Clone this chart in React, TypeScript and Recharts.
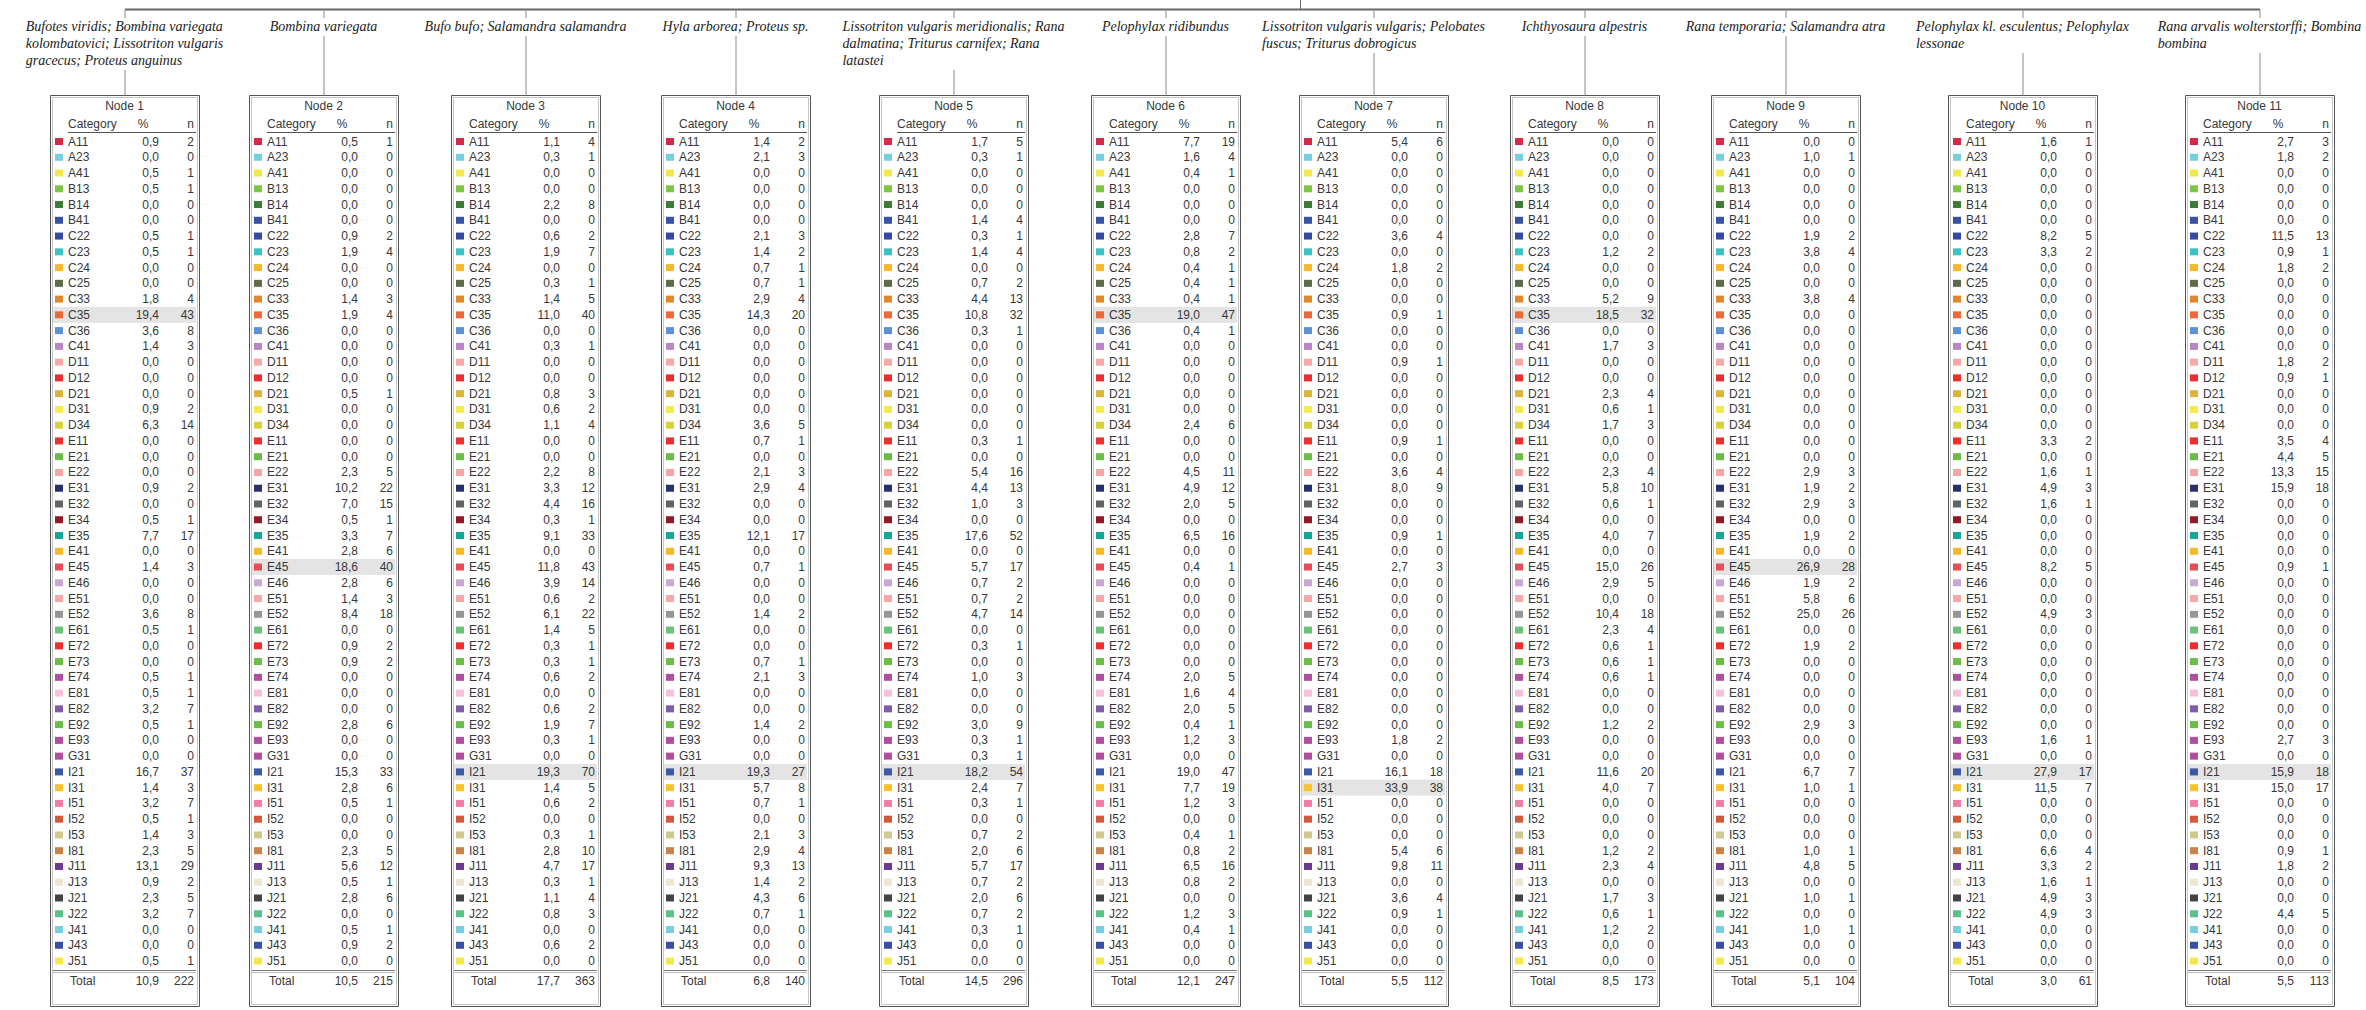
import React from "react";
import { ScatterChart, Scatter, XAxis, YAxis, ReferenceLine, ReferenceArea } from "recharts";

// category codes, in table order
const CATEGORIES = [
  "A11", "A23", "A41", "B13", "B14", "B41", "C22", "C23", "C24", "C25",
  "C33", "C35", "C36", "C41", "D11", "D12", "D21", "D31", "D34", "E11",
  "E21", "E22", "E31", "E32", "E34", "E35", "E41", "E45", "E46", "E51",
  "E52", "E61", "E72", "E73", "E74", "E81", "E82", "E92", "E93", "G31",
  "I21", "I31", "I51", "I52", "I53", "I81", "J11", "J13", "J21", "J22",
  "J41", "J43", "J51",
];

const CAT_COLORS = [
  "#d6294a", "#74d0de", "#f2e94b", "#7ec445", "#3e7b37", "#3a52a3", "#354a9e", "#3dc2c4", "#f7b92c", "#5d6b48",
  "#e0882e", "#ea6a3a", "#5e90d3", "#b985c2", "#f6a9a9", "#ec2d2f", "#d9b53a", "#f3ec4d", "#d8d23a", "#f02e2e",
  "#6cbd45", "#f6a5a5", "#27306f", "#5f6566", "#8f1b24", "#17a697", "#f7b92c", "#e24f57", "#cba8d4", "#f6a7a7",
  "#969696", "#6cc27a", "#f02c2c", "#6cbd45", "#b04f9f", "#f8c0dc", "#7f5ca9", "#6cbd45", "#b04f9f", "#b04d9c",
  "#3d59a3", "#f8c22e", "#f07fa8", "#d05a3c", "#cfc88f", "#c8834a", "#6a3a8f", "#ece6d2", "#444448", "#5cc08b",
  "#74d0de", "#3a4ea3", "#f2e94b",
];

const NODE_TITLES = ["Node 1", "Node 2", "Node 3", "Node 4", "Node 5", "Node 6", "Node 7", "Node 8", "Node 9", "Node 10", "Node 11"];

const NODE_LABELS = [
  ["Bufotes viridis; Bombina variegata", "kolombatovici; Lissotriton vulgaris", "gracecus; Proteus anguinus"],
  ["Bombina variegata"],
  ["Bufo bufo; Salamandra salamandra"],
  ["Hyla arborea; Proteus sp."],
  ["Lissotriton vulgaris meridionalis; Rana", "dalmatina; Triturus carnifex; Rana", "latastei"],
  ["Pelophylax ridibundus"],
  ["Lissotriton vulgaris vulgaris; Pelobates", "fuscus; Triturus dobrogicus"],
  ["Ichthyosaura alpestris"],
  ["Rana temporaria; Salamandra atra"],
  ["Pelophylax kl. esculentus; Pelophylax", "lessonae"],
  ["Rana arvalis wolterstorffi; Bombina", "bombina"],
];

const node1Pct = [0.9, 0, 0.5, 0.5, 0, 0, 0.5, 0.5, 0, 0, 1.8, 19.4, 3.6, 1.4, 0, 0, 0, 0.9, 6.3, 0, 0, 0, 0.9, 0, 0.5, 7.7, 0, 1.4, 0, 0, 3.6, 0.5, 0, 0, 0.5, 0.5, 3.2, 0.5, 0, 0, 16.7, 1.4, 3.2, 0.5, 1.4, 2.3, 13.1, 0.9, 2.3, 3.2, 0, 0, 0.5];
const node1N = [2, 0, 1, 1, 0, 0, 1, 1, 0, 0, 4, 43, 8, 3, 0, 0, 0, 2, 14, 0, 0, 0, 2, 0, 1, 17, 0, 3, 0, 0, 8, 1, 0, 0, 1, 1, 7, 1, 0, 0, 37, 3, 7, 1, 3, 5, 29, 2, 5, 7, 0, 0, 1];
const node2Pct = [0.5, 0, 0, 0, 0, 0, 0.9, 1.9, 0, 0, 1.4, 1.9, 0, 0, 0, 0, 0.5, 0, 0, 0, 0, 2.3, 10.2, 7.0, 0.5, 3.3, 2.8, 18.6, 2.8, 1.4, 8.4, 0, 0.9, 0.9, 0, 0, 0, 2.8, 0, 0, 15.3, 2.8, 0.5, 0, 0, 2.3, 5.6, 0.5, 2.8, 0, 0.5, 0.9, 0];
const node2N = [1, 0, 0, 0, 0, 0, 2, 4, 0, 0, 3, 4, 0, 0, 0, 0, 1, 0, 0, 0, 0, 5, 22, 15, 1, 7, 6, 40, 6, 3, 18, 0, 2, 2, 0, 0, 0, 6, 0, 0, 33, 6, 1, 0, 0, 5, 12, 1, 6, 0, 1, 2, 0];
const node3Pct = [1.1, 0.3, 0, 0, 2.2, 0, 0.6, 1.9, 0, 0.3, 1.4, 11.0, 0, 0.3, 0, 0, 0.8, 0.6, 1.1, 0, 0, 2.2, 3.3, 4.4, 0.3, 9.1, 0, 11.8, 3.9, 0.6, 6.1, 1.4, 0.3, 0.3, 0.6, 0, 0.6, 1.9, 0.3, 0, 19.3, 1.4, 0.6, 0, 0.3, 2.8, 4.7, 0.3, 1.1, 0.8, 0, 0.6, 0];
const node3N = [4, 1, 0, 0, 8, 0, 2, 7, 0, 1, 5, 40, 0, 1, 0, 0, 3, 2, 4, 0, 0, 8, 12, 16, 1, 33, 0, 43, 14, 2, 22, 5, 1, 1, 2, 0, 2, 7, 1, 0, 70, 5, 2, 0, 1, 10, 17, 1, 4, 3, 0, 2, 0];
const node4Pct = [1.4, 2.1, 0, 0, 0, 0, 2.1, 1.4, 0.7, 0.7, 2.9, 14.3, 0, 0, 0, 0, 0, 0, 3.6, 0.7, 0, 2.1, 2.9, 0, 0, 12.1, 0, 0.7, 0, 0, 1.4, 0, 0, 0.7, 2.1, 0, 0, 1.4, 0, 0, 19.3, 5.7, 0.7, 0, 2.1, 2.9, 9.3, 1.4, 4.3, 0.7, 0, 0, 0];
const node4N = [2, 3, 0, 0, 0, 0, 3, 2, 1, 1, 4, 20, 0, 0, 0, 0, 0, 0, 5, 1, 0, 3, 4, 0, 0, 17, 0, 1, 0, 0, 2, 0, 0, 1, 3, 0, 0, 2, 0, 0, 27, 8, 1, 0, 3, 4, 13, 2, 6, 1, 0, 0, 0];
const node5Pct = [1.7, 0.3, 0, 0, 0, 1.4, 0.3, 1.4, 0, 0.7, 4.4, 10.8, 0.3, 0, 0, 0, 0, 0, 0, 0.3, 0, 5.4, 4.4, 1.0, 0, 17.6, 0, 5.7, 0.7, 0.7, 4.7, 0, 0.3, 0, 1.0, 0, 0, 3.0, 0.3, 0.3, 18.2, 2.4, 0.3, 0, 0.7, 2.0, 5.7, 0.7, 2.0, 0.7, 0.3, 0, 0];
const node5N = [5, 1, 0, 0, 0, 4, 1, 4, 0, 2, 13, 32, 1, 0, 0, 0, 0, 0, 0, 1, 0, 16, 13, 3, 0, 52, 0, 17, 2, 2, 14, 0, 1, 0, 3, 0, 0, 9, 1, 1, 54, 7, 1, 0, 2, 6, 17, 2, 6, 2, 1, 0, 0];
const node6Pct = [7.7, 1.6, 0.4, 0, 0, 0, 2.8, 0.8, 0.4, 0.4, 0.4, 19.0, 0.4, 0, 0, 0, 0, 0, 2.4, 0, 0, 4.5, 4.9, 2.0, 0, 6.5, 0, 0.4, 0, 0, 0, 0, 0, 0, 2.0, 1.6, 2.0, 0.4, 1.2, 0, 19.0, 7.7, 1.2, 0, 0.4, 0.8, 6.5, 0.8, 0, 1.2, 0.4, 0, 0];
const node6N = [19, 4, 1, 0, 0, 0, 7, 2, 1, 1, 1, 47, 1, 0, 0, 0, 0, 0, 6, 0, 0, 11, 12, 5, 0, 16, 0, 1, 0, 0, 0, 0, 0, 0, 5, 4, 5, 1, 3, 0, 47, 19, 3, 0, 1, 2, 16, 2, 0, 3, 1, 0, 0];
const node7Pct = [5.4, 0, 0, 0, 0, 0, 3.6, 0, 1.8, 0, 0, 0.9, 0, 0, 0.9, 0, 0, 0, 0, 0.9, 0, 3.6, 8.0, 0, 0, 0.9, 0, 2.7, 0, 0, 0, 0, 0, 0, 0, 0, 0, 0, 1.8, 0, 16.1, 33.9, 0, 0, 0, 5.4, 9.8, 0, 3.6, 0.9, 0, 0, 0];
const node7N = [6, 0, 0, 0, 0, 0, 4, 0, 2, 0, 0, 1, 0, 0, 1, 0, 0, 0, 0, 1, 0, 4, 9, 0, 0, 1, 0, 3, 0, 0, 0, 0, 0, 0, 0, 0, 0, 0, 2, 0, 18, 38, 0, 0, 0, 6, 11, 0, 4, 1, 0, 0, 0];
const node8Pct = [0, 0, 0, 0, 0, 0, 0, 1.2, 0, 0, 5.2, 18.5, 0, 1.7, 0, 0, 2.3, 0.6, 1.7, 0, 0, 2.3, 5.8, 0.6, 0, 4.0, 0, 15.0, 2.9, 0, 10.4, 2.3, 0.6, 0.6, 0.6, 0, 0, 1.2, 0, 0, 11.6, 4.0, 0, 0, 0, 1.2, 2.3, 0, 1.7, 0.6, 1.2, 0, 0];
const node8N = [0, 0, 0, 0, 0, 0, 0, 2, 0, 0, 9, 32, 0, 3, 0, 0, 4, 1, 3, 0, 0, 4, 10, 1, 0, 7, 0, 26, 5, 0, 18, 4, 1, 1, 1, 0, 0, 2, 0, 0, 20, 7, 0, 0, 0, 2, 4, 0, 3, 1, 2, 0, 0];
const node9Pct = [0, 1.0, 0, 0, 0, 0, 1.9, 3.8, 0, 0, 3.8, 0, 0, 0, 0, 0, 0, 0, 0, 0, 0, 2.9, 1.9, 2.9, 0, 1.9, 0, 26.9, 1.9, 5.8, 25.0, 0, 1.9, 0, 0, 0, 0, 2.9, 0, 0, 6.7, 1.0, 0, 0, 0, 1.0, 4.8, 0, 1.0, 0, 1.0, 0, 0];
const node9N = [0, 1, 0, 0, 0, 0, 2, 4, 0, 0, 4, 0, 0, 0, 0, 0, 0, 0, 0, 0, 0, 3, 2, 3, 0, 2, 0, 28, 2, 6, 26, 0, 2, 0, 0, 0, 0, 3, 0, 0, 7, 1, 0, 0, 0, 1, 5, 0, 1, 0, 1, 0, 0];
const node10Pct = [1.6, 0, 0, 0, 0, 0, 8.2, 3.3, 0, 0, 0, 0, 0, 0, 0, 0, 0, 0, 0, 3.3, 0, 1.6, 4.9, 1.6, 0, 0, 0, 8.2, 0, 0, 4.9, 0, 0, 0, 0, 0, 0, 0, 1.6, 0, 27.9, 11.5, 0, 0, 0, 6.6, 3.3, 1.6, 4.9, 4.9, 0, 0, 0];
const node10N = [1, 0, 0, 0, 0, 0, 5, 2, 0, 0, 0, 0, 0, 0, 0, 0, 0, 0, 0, 2, 0, 1, 3, 1, 0, 0, 0, 5, 0, 0, 3, 0, 0, 0, 0, 0, 0, 0, 1, 0, 17, 7, 0, 0, 0, 4, 2, 1, 3, 3, 0, 0, 0];
const node11Pct = [2.7, 1.8, 0, 0, 0, 0, 11.5, 0.9, 1.8, 0, 0, 0, 0, 0, 1.8, 0.9, 0, 0, 0, 3.5, 4.4, 13.3, 15.9, 0, 0, 0, 0, 0.9, 0, 0, 0, 0, 0, 0, 0, 0, 0, 0, 2.7, 0, 15.9, 15.0, 0, 0, 0, 0.9, 1.8, 0, 0, 4.4, 0, 0, 0];
const node11N = [3, 2, 0, 0, 0, 0, 13, 1, 2, 0, 0, 0, 0, 0, 2, 1, 0, 0, 0, 4, 5, 15, 18, 0, 0, 0, 0, 1, 0, 0, 0, 0, 0, 0, 0, 0, 0, 0, 3, 0, 18, 17, 0, 0, 0, 1, 2, 0, 0, 5, 0, 0, 0];

const TOTAL_PCT = [10.9, 10.5, 17.7, 6.8, 14.5, 12.1, 5.5, 8.5, 5.1, 3.0, 5.5];
const TOTAL_N = [222, 215, 363, 140, 296, 247, 112, 173, 104, 61, 113];
const HIGHLIGHT = ["C35", "E45", "I21", "I21", "I21", "C35", "I31", "C35", "E45", "I21", "I21"];

const PCTS = [node1Pct, node2Pct, node3Pct, node4Pct, node5Pct, node6Pct, node7Pct, node8Pct, node9Pct, node10Pct, node11Pct];
const COUNTS = [node1N, node2N, node3N, node4N, node5N, node6N, node7N, node8N, node9N, node10N, node11N];

// layout
const W = 2366;
const H = 1010;
const NODE_X = [50, 249, 451, 661, 879, 1091, 1299, 1510, 1711, 1948, 2185];
const BOX_W = 149;
const ROW0 = 141.5;
const PITCH = 15.76;
const Y_MIN = -ROW0 / PITCH;
const Y_MAX = Y_MIN + H / PITCH;
const toRow = (px: number) => (px - ROW0) / PITCH;

const BOX_TOP = toRow(95.5);
const BOX_BOT = toRow(1006.5);
const TREE_Y = toRow(9.5);
const ROOT_X = 1300.5;
const LABEL_Y = toRow(31);
const TITLE_Y = toRow(106);
const HEADER_Y = toRow(124);
const TOTAL_Y = toRow(981);

const SANS = "'Liberation Sans', Arial, sans-serif";
const SERIF = "'Liberation Serif', 'Times New Roman', serif";
const TXT = "#383838";

const fmt = (v: number) => v.toFixed(1).replace(".", ",");

let measureCtx: CanvasRenderingContext2D | null = null;
function textWidth(s: string, font: string) {
  if (!measureCtx) measureCtx = document.createElement("canvas").getContext("2d");
  if (!measureCtx) return s.length * 6;
  measureCtx.font = font;
  return measureCtx.measureText(s).width;
}

const rowData = PCTS.flatMap((pcts, i) =>
  pcts.map((p, j) => ({
    x: NODE_X[i],
    y: j,
    cat: CATEGORIES[j],
    color: CAT_COLORS[j],
    pct: p,
    n: COUNTS[i][j],
    hi: HIGHLIGHT[i] === CATEGORIES[j],
  }))
);
const titleData = NODE_TITLES.map((t, i) => ({ x: NODE_X[i], y: TITLE_Y, title: t }));
const headerData = NODE_X.map((x) => ({ x, y: HEADER_Y }));
const totalData = NODE_X.map((x, i) => ({ x, y: TOTAL_Y, pct: TOTAL_PCT[i], n: TOTAL_N[i] }));
const labelData = NODE_LABELS.map((lines, i) => ({ x: NODE_X[i] + BOX_W / 2, y: LABEL_Y, lines }));

function RowShape(props: any) {
  const { cx, cy, payload } = props;
  const L = cx;
  return (
    <g>
      {payload.hi && <rect x={L + 3} y={cy - 8} width={BOX_W - 6} height={16} fill="#e4e4e4" />}
      <rect x={L + 5} y={cy - 3.5} width={8} height={7} fill={payload.color} />
      <g fontFamily={SANS} fontSize={12} fill={TXT}>
        <text x={L + 18} y={cy + 4}>{payload.cat}</text>
        <text x={L + 109} y={cy + 4} textAnchor="end">{fmt(payload.pct)}</text>
        <text x={L + 144} y={cy + 4} textAnchor="end">{payload.n}</text>
      </g>
    </g>
  );
}

function TitleShape(props: any) {
  const { cx, cy, payload } = props;
  return (
    <text x={cx + BOX_W / 2} y={cy + 4} textAnchor="middle" fontFamily={SANS} fontSize={12} fill={TXT}>
      {payload.title}
    </text>
  );
}

function HeaderShape(props: any) {
  const { cx, cy } = props;
  const L = cx;
  return (
    <g fontFamily={SANS} fontSize={12} fill={TXT}>
      <text x={L + 18} y={cy + 4}>Category</text>
      <text x={L + 93} y={cy + 4} textAnchor="middle">%</text>
      <text x={L + 144} y={cy + 4} textAnchor="end">n</text>
      <line x1={L + 18} x2={L + 146} y1={cy + 8.5} y2={cy + 8.5} stroke="#555" strokeWidth={1} />
    </g>
  );
}

function TotalShape(props: any) {
  const { cx, cy, payload } = props;
  const L = cx;
  return (
    <g fontFamily={SANS} fontSize={12} fill={TXT}>
      <line x1={L + 3} x2={L + 146} y1={cy - 10.5} y2={cy - 10.5} stroke="#777" strokeWidth={1} />
      <line x1={L + 3} x2={L + 146} y1={cy - 8.5} y2={cy - 8.5} stroke="#bbb" strokeWidth={1} />
      <text x={L + 20} y={cy + 4}>Total</text>
      <text x={L + 109} y={cy + 4} textAnchor="end">{fmt(payload.pct)}</text>
      <text x={L + 144} y={cy + 4} textAnchor="end">{payload.n}</text>
    </g>
  );
}

const LABEL_FONT = `italic 14px ${SERIF}`;

function LabelShape(props: any) {
  const { cx, cy, payload } = props;
  const lines: string[] = payload.lines;
  const w = Math.max(...lines.map((l) => textWidth(l, LABEL_FONT)));
  const left = cx - w / 2;
  return (
    <g>
      <rect x={left - 2} y={cy - 13} width={w + 4} height={lines.length * 17 + 1} fill="#fff" />
      <text fontFamily={SERIF} fontStyle="italic" fontSize={14} fill="#222">
        {lines.map((l, k) => (
          <tspan key={k} x={left} y={cy + k * 17}>
            {l}
          </tspan>
        ))}
      </text>
    </g>
  );
}

export default function App() {
  const centers = NODE_X.map((x) => x + BOX_W / 2 + 0.5);
  return (
    <div style={{ position: "absolute", left: 0, top: 0, background: "#fff" }}>
      <ScatterChart width={W} height={H} margin={{ top: 0, right: 0, bottom: 0, left: 0 }}>
        <XAxis type="number" dataKey="x" domain={[0, W]} hide allowDataOverflow />
        <YAxis type="number" dataKey="y" domain={[Y_MIN, Y_MAX]} reversed hide allowDataOverflow />

        <ReferenceLine
          segment={[{ x: centers[0], y: TREE_Y }, { x: centers[centers.length - 1], y: TREE_Y }]}
          stroke="#666"
          strokeWidth={2}
          ifOverflow="visible"
        />
        <ReferenceLine
          segment={[{ x: ROOT_X, y: Y_MIN }, { x: ROOT_X, y: TREE_Y }]}
          stroke="#666"
          strokeWidth={1}
          ifOverflow="visible"
        />
        {centers.map((c, i) => (
          <ReferenceLine
            key={`v${i}`}
            segment={[{ x: c, y: TREE_Y }, { x: c, y: BOX_TOP }]}
            stroke="#8a8a8a"
            strokeWidth={1}
            ifOverflow="visible"
          />
        ))}
        {NODE_X.map((x, i) => (
          <ReferenceArea
            key={`b${i}`}
            x1={x + 0.5}
            x2={x + BOX_W + 0.5}
            y1={BOX_TOP}
            y2={BOX_BOT}
            fill="none"
            stroke="#555"
            strokeWidth={1}
            ifOverflow="visible"
          />
        ))}
        {NODE_X.map((x, i) => (
          <ReferenceArea
            key={`bi${i}`}
            x1={x + 2.5}
            x2={x + BOX_W - 1.5}
            y1={toRow(97.5)}
            y2={toRow(1004.5)}
            fill="none"
            stroke="#c4c4c4"
            strokeWidth={1}
            ifOverflow="visible"
          />
        ))}

        <Scatter data={labelData} shape={(p: any) => <LabelShape {...p} />} isAnimationActive={false} />
        <Scatter data={titleData} shape={(p: any) => <TitleShape {...p} />} isAnimationActive={false} />
        <Scatter data={headerData} shape={(p: any) => <HeaderShape {...p} />} isAnimationActive={false} />
        <Scatter data={rowData} shape={(p: any) => <RowShape {...p} />} isAnimationActive={false} />
        <Scatter data={totalData} shape={(p: any) => <TotalShape {...p} />} isAnimationActive={false} />
      </ScatterChart>
    </div>
  );
}
